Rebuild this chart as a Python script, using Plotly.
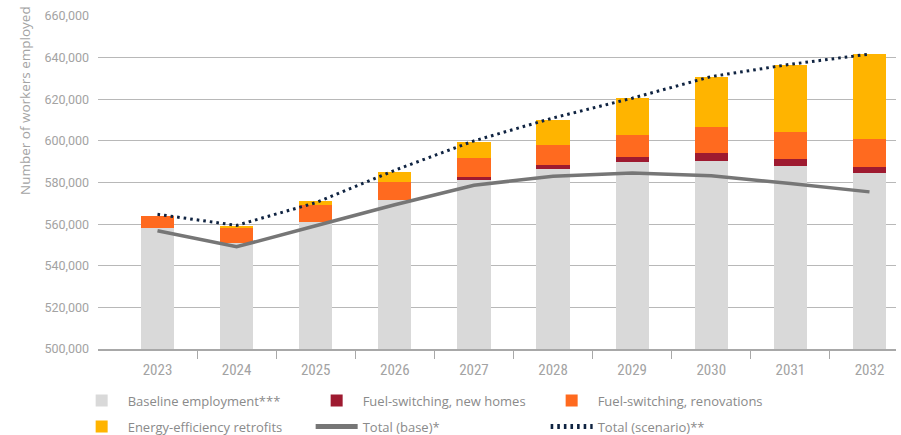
import plotly.graph_objects as go

# Employment by year, stacked components plus two total lines
years = ["2023", "2024", "2025", "2026", "2027", "2028", "2029", "2030", "2031", "2032"]
baseline = [558200, 551000, 561000, 571500, 581100, 586400, 589800, 590200, 587800, 584500]
fs_new_homes = [0, 0, 0, 0, 1400, 1900, 2400, 3800, 3400, 2900]
fs_renovations = [5600, 7400, 8100, 8800, 9300, 9600, 10500, 12500, 12900, 13400]
ee_retrofits = [0, 800, 1900, 4800, 7700, 12000, 17800, 24000, 32200, 40800]
total_base = [556800, 549100, 559200, 569300, 578700, 583000, 584600, 583200, 579500, 575500]
total_scenario = [564700, 559400, 570300, 585900, 600000, 611000, 620500, 630900, 636800, 641700]

y_ticks = [500000, 520000, 540000, 560000, 580000, 600000, 620000, 640000, 660000]

x_idx = list(range(len(years)))
boundaries = [i + 0.5 for i in range(len(years) - 1)]

C_BASE = "#d9d9d9"
C_NEW = "#9e1a30"
C_RENO = "#ff6a1f"
C_EE = "#ffb400"
C_TOT = "#767676"
C_SCEN = "#0f2341"
TXT = "#a3a3a3"
LEG_TXT = "#8a8a8a"

BAR_W = 0.42

fig = go.Figure()

fig.add_trace(go.Bar(x=x_idx, y=baseline, name="Baseline employment***",
                     marker=dict(color=C_BASE, line=dict(width=0)), width=BAR_W,
                     legend="legend"))
fig.add_trace(go.Bar(x=x_idx, y=fs_new_homes, name="Fuel-switching, new homes",
                     marker=dict(color=C_NEW, line=dict(width=0)), width=BAR_W,
                     legend="legend"))
fig.add_trace(go.Bar(x=x_idx, y=fs_renovations, name="Fuel-switching, renovations",
                     marker=dict(color=C_RENO, line=dict(width=0)), width=BAR_W,
                     legend="legend"))
fig.add_trace(go.Bar(x=x_idx, y=ee_retrofits, name="Energy-efficiency retrofits",
                     marker=dict(color=C_EE, line=dict(width=0)), width=BAR_W,
                     legend="legend2"))
fig.add_trace(go.Scatter(x=x_idx, y=total_base, name="Total (base)*", mode="lines",
                         line=dict(color=C_TOT, width=3.5), legend="legend2"))
fig.add_trace(go.Scatter(x=x_idx, y=total_scenario, name="Total (scenario)**", mode="lines",
                         line=dict(color=C_SCEN, width=3, dash="2.6px,4px"), legend="legend2"))

# boundary tick marks on a second, overlaid x axis
fig.add_trace(go.Scatter(x=[boundaries[0]], y=[None], xaxis="x2", showlegend=False,
                         hoverinfo="skip"))

x_range = [-0.752, 9.335]
PLOT_TOP, PLOT_BOTTOM = 16, 349
plot_h = PLOT_BOTTOM - PLOT_TOP


def paper_y(px):
    return (PLOT_BOTTOM - px) / plot_h


leg_common = dict(orientation="h", xanchor="left", yanchor="middle",
                  font=dict(family="Open Sans, Lato, sans-serif", size=13, color=LEG_TXT),
                  bgcolor="rgba(0,0,0,0)", entrywidth=178, entrywidthmode="pixels",
                  itemwidth=42, itemsizing="constant", traceorder="normal")

fig.update_layout(
    width=901, height=435,
    margin=dict(l=98, r=5, t=PLOT_TOP, b=435 - PLOT_BOTTOM, autoexpand=False),
    paper_bgcolor="white", plot_bgcolor="white",
    barmode="stack", bargap=0,
    showlegend=True,
    legend=dict(x=-0.028, y=paper_y(400.5), **leg_common),
    legend2=dict(x=-0.028, y=paper_y(426.5), **leg_common),
    xaxis=dict(range=x_range, tickmode="array", tickvals=x_idx, ticktext=years,
               ticks="", showgrid=False, zeroline=False,
               showline=True, linecolor="#a8a8a8", linewidth=1.5,
               tickfont=dict(family="Liberation Sans Narrow, Roboto Condensed, Roboto, sans-serif",
                             size=15, color=TXT),
               ticklabelstandoff=6),
    xaxis2=dict(range=x_range, overlaying="x", anchor="y", side="bottom",
                tickmode="array", tickvals=boundaries, showticklabels=False,
                ticks="outside", ticklen=9, tickwidth=1, tickcolor="#a8a8a8",
                showgrid=False, zeroline=False, showline=False),
    yaxis=dict(range=[500000, 660000], tickmode="array", tickvals=y_ticks,
               tickformat=",d", showgrid=True, gridcolor="#b8b8b8", gridwidth=1.3,
               zeroline=False, showline=False, ticks="",
               tickfont=dict(family="Roboto, sans-serif", size=12.5, color=TXT),
               ticklabelstandoff=8),
    annotations=[dict(text="Number of workers employed", xref="paper", yref="paper",
                      x=-0.0915, y=paper_y(100), xanchor="center", yanchor="middle",
                      textangle=-90, showarrow=False,
                      font=dict(family="Open Sans, Lato, sans-serif", size=13.5, color=TXT))],
)

fig.write_html("out.html")
